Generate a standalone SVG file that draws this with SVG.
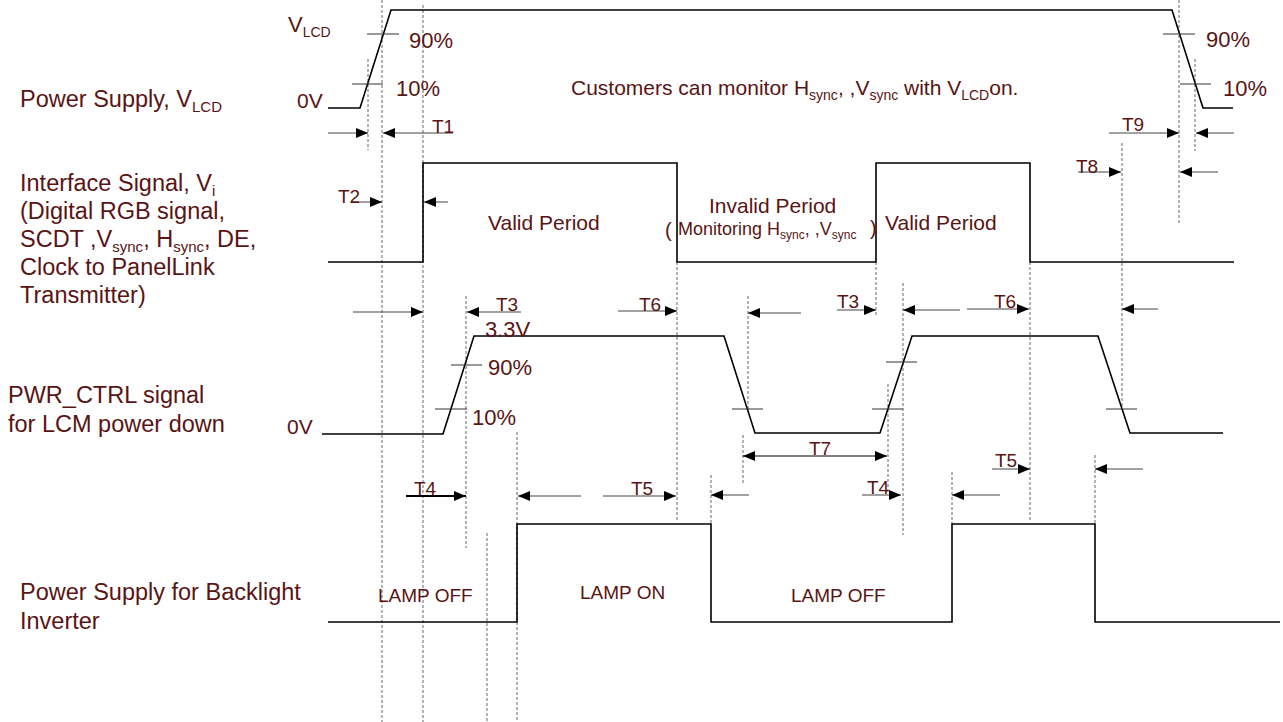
<svg xmlns="http://www.w3.org/2000/svg" width="1283" height="722" viewBox="0 0 1283 722">
<style>
text{font-family:"Liberation Sans",Arial,sans-serif;fill:#5a1414}
.lbl{font-size:23.5px}
.pct{font-size:22px}
.t{font-size:19px}
.mid{font-size:21px}
.lamp{font-size:19px}
.sig{fill:none;stroke:#000;stroke-width:1.6}
.tick{stroke:#333;stroke-width:1}
.dash{stroke:#666;stroke-width:1;stroke-dasharray:3,2}
.arr{stroke:#444;stroke-width:1;marker-end:url(#ah)}
.arrb{stroke:#000;stroke-width:2;marker-end:url(#ah)}
</style>
<defs>
<marker id="ah" markerUnits="userSpaceOnUse" markerWidth="12" markerHeight="10" refX="12" refY="5" orient="auto"><path d="M0,0 L12,5 L0,10 z" fill="#000"/></marker>
<marker id="ahs" markerUnits="userSpaceOnUse" markerWidth="12" markerHeight="10" refX="0" refY="5" orient="auto"><path d="M12,0 L0,5 L12,10 z" fill="#000"/></marker>
</defs>
<rect width="1283" height="722" fill="#fff"/>

<g id="dashes">
<line class="dash" x1="368" y1="59" x2="368" y2="150"/>
<line class="dash" x1="382" y1="0" x2="382" y2="722"/>
<line class="dash" x1="423" y1="5" x2="423" y2="722"/>
<line class="dash" x1="466" y1="296" x2="466" y2="548"/>
<line class="dash" x1="487" y1="533" x2="487" y2="722"/>
<line class="dash" x1="517" y1="432" x2="517" y2="722"/>
<line class="dash" x1="677" y1="262" x2="677" y2="522"/>
<line class="dash" x1="711" y1="475" x2="711" y2="524"/>
<line class="dash" x1="748" y1="296" x2="748" y2="410"/>
<line class="dash" x1="743" y1="435" x2="743" y2="483"/>
<line class="dash" x1="876" y1="262" x2="876" y2="317"/>
<line class="dash" x1="888" y1="384" x2="888" y2="493"/>
<line class="dash" x1="903" y1="283" x2="903" y2="535"/>
<line class="dash" x1="952" y1="472" x2="952" y2="524"/>
<line class="dash" x1="1030" y1="262" x2="1030" y2="522"/>
<line class="dash" x1="1095" y1="455" x2="1095" y2="524"/>
<line class="dash" x1="1122" y1="143" x2="1122" y2="410"/>
<line class="dash" x1="1179" y1="0" x2="1179" y2="225"/>
<line class="dash" x1="1195" y1="59" x2="1195" y2="151"/>
</g>

<g id="vlcd">
<polyline class="sig" points="328,108 360,108 391,10 1172,10 1203,108 1233,108"/>
<line class="tick" x1="367" y1="34" x2="399" y2="34"/>
<line class="tick" x1="352" y1="84" x2="383" y2="84"/>
<line class="tick" x1="1163" y1="34" x2="1195" y2="34"/>
<line class="tick" x1="1180" y1="84" x2="1211" y2="84"/>
<text class="pct" x="288" y="32">V<tspan font-size="14" dy="5">LCD</tspan></text>
<text class="mid" x="297" y="108">0V</text>
<text class="pct" x="409" y="48">90%</text>
<text class="pct" x="396" y="96">10%</text>
<text class="pct" x="1206" y="47">90%</text>
<text class="pct" x="1223" y="96">10%</text>
<text class="lbl" x="20" y="107">Power Supply, V<tspan font-size="15" dy="5">LCD</tspan></text>
<text class="mid" x="571" y="95">Customers can monitor H<tspan font-size="14" dy="5">sync</tspan><tspan dy="-5">, ,V</tspan><tspan font-size="14" dy="5">sync</tspan><tspan dy="-5"> with V</tspan><tspan font-size="14" dy="5">LCD</tspan><tspan dy="-5">on.</tspan></text>
</g>

<g id="interface">
<polyline class="sig" points="328,262 423,262 423,163 677,163 677,262 876,262 876,163 1030,163 1030,262 1234,262"/>
<text class="lbl" x="20" y="191">Interface Signal, V<tspan font-size="15" dy="5">i</tspan></text>
<text class="lbl" x="20" y="219">(Digital RGB signal,</text>
<text class="lbl" x="20" y="247">SCDT ,V<tspan font-size="15" dy="5">sync</tspan><tspan dy="-5">, H</tspan><tspan font-size="15" dy="5">sync</tspan><tspan dy="-5">, DE,</tspan></text>
<text class="lbl" x="20" y="275">Clock to PanelLink</text>
<text class="lbl" x="20" y="303">Transmitter)</text>
<text class="mid" x="488" y="230">Valid Period</text>
<text class="mid" x="709" y="213">Invalid Period</text>
<text x="665" y="237" font-size="20">(</text>
<text x="678" y="235" font-size="18">Monitoring H<tspan font-size="12" dy="4">sync</tspan><tspan dy="-4">, ,V</tspan><tspan font-size="12" dy="4">sync</tspan></text>
<text x="870" y="235" font-size="20">)</text>
<text class="mid" x="885" y="230">Valid Period</text>
</g>

<g id="pwrctrl">
<polyline class="sig" points="322,434 443,434 474,336 724,336 755,433 880,433 912,336 1098,336 1130,433 1223,433"/>
<line class="tick" x1="451" y1="365" x2="482" y2="365"/>
<line class="tick" x1="435" y1="409" x2="467" y2="409"/>
<line class="tick" x1="732" y1="409" x2="763" y2="409"/>
<line class="tick" x1="886" y1="362" x2="917" y2="362"/>
<line class="tick" x1="872" y1="409" x2="903" y2="409"/>
<line class="tick" x1="1106" y1="409" x2="1137" y2="409"/>
<text class="pct" x="485" y="337">3.3V</text>
<text class="pct" x="488" y="375">90%</text>
<text class="pct" x="472" y="425">10%</text>
<text class="mid" x="287" y="434">0V</text>
<text class="lbl" x="8" y="403">PWR_CTRL signal</text>
<text class="lbl" x="8" y="432">for LCM power down</text>
</g>

<g id="backlight">
<polyline class="sig" points="328,622 517,622 517,524 711,524 711,622 952,622 952,524 1095,524 1095,622 1280,622"/>
<text class="lamp" x="378" y="602">LAMP OFF</text>
<text class="lamp" x="580" y="599">LAMP ON</text>
<text class="lamp" x="791" y="602">LAMP OFF</text>
<text class="lbl" x="20" y="600">Power Supply for Backlight</text>
<text class="lbl" x="20" y="629">Inverter</text>
</g>

<g id="connectors">
<line class="arr" x1="328" y1="133" x2="368" y2="133"/>
<line class="arr" x1="453" y1="133" x2="383" y2="133"/>
<line class="arr" x1="1109" y1="133" x2="1179" y2="133"/>
<line class="arr" x1="1234" y1="133" x2="1196" y2="133"/>
<line class="arr" x1="352" y1="202" x2="382" y2="202"/>
<line class="arr" x1="448" y1="202" x2="424" y2="202"/>
<line class="arr" x1="1078" y1="172" x2="1121" y2="172"/>
<line class="arr" x1="1218" y1="172" x2="1180" y2="172"/>
<line class="arr" x1="353" y1="312" x2="423" y2="312"/>
<line class="arr" x1="521" y1="312" x2="467" y2="312"/>
<line class="arr" x1="618" y1="311" x2="677" y2="311"/>
<line class="arr" x1="801" y1="313" x2="748" y2="313"/>
<line class="arr" x1="837" y1="310" x2="876" y2="310"/>
<line class="arr" x1="960" y1="310" x2="903" y2="310"/>
<line class="arr" x1="967" y1="309" x2="1029" y2="309"/>
<line class="arr" x1="1158" y1="309" x2="1122" y2="309"/>
<line stroke="#000" stroke-width="1" marker-start="url(#ahs)" marker-end="url(#ah)" x1="743" y1="456" x2="887" y2="456"/>
<line class="arrb" x1="406" y1="496" x2="466" y2="496"/>
<line class="arr" x1="581" y1="496" x2="518" y2="496"/>
<line class="arr" x1="603" y1="496" x2="676" y2="496"/>
<line class="arr" x1="749" y1="495" x2="711" y2="495"/>
<line class="arr" x1="862" y1="495" x2="901" y2="495"/>
<line class="arr" x1="1000" y1="495" x2="952" y2="495"/>
<line class="arr" x1="992" y1="469" x2="1030" y2="469"/>
<line class="arr" x1="1143" y1="469" x2="1095" y2="469"/>
<text class="t" x="432" y="133">T1</text>
<text class="t" x="1122" y="131">T9</text>
<text class="t" x="338" y="203">T2</text>
<text class="t" x="1076" y="173">T8</text>
<text class="t" x="496" y="311">T3</text>
<text class="t" x="639" y="311">T6</text>
<text class="t" x="837" y="308">T3</text>
<text class="t" x="994" y="308">T6</text>
<text class="t" x="809" y="455">T7</text>
<text class="t" x="414" y="495">T4</text>
<text class="t" x="631" y="495">T5</text>
<text class="t" x="867" y="494">T4</text>
<text class="t" x="995" y="467">T5</text>
</g>
</svg>
